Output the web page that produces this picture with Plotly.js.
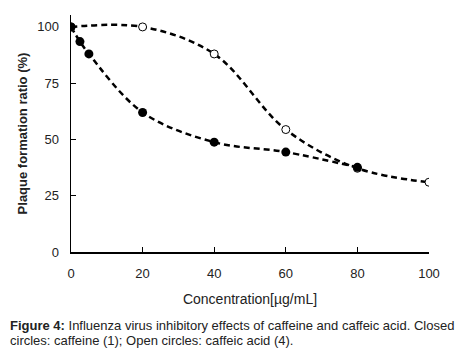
<!DOCTYPE html>
<html><head><meta charset="utf-8">
<script src="https://cdn.plot.ly/plotly-3.0.1.min.js"></script>
<style>html,body{margin:0;padding:0;background:#fff;}#chart{width:458px;height:360px;}</style>
</head><body><div id="chart"></div>
<script>
const caffeineX = [0, 2.5, 5, 20, 40, 60, 80];
const caffeineY = [100, 93.5, 88, 62, 48.8, 44.4, 37.6];
const caffeicX = [0, 20, 40, 60, 80, 100];
const caffeicY = [100, 100, 88, 54.4, 37.2, 31];
const xTicks = [0, 20, 40, 60, 80, 100];
const yTicks = [0, 25, 50, 75, 100];
const xTitle = 'Concentration[µg/mL]';
const yTitle = '<b>Plaque formation ratio (%)</b>';
const captionLine1 = '<b>Figure 4:</b> Influenza virus inhibitory effects of caffeine and caffeic acid. Closed';
const captionLine2 = 'circles: caffeine (1); Open circles: caffeic acid (4).';

const F = 'Arial, "Liberation Sans", sans-serif';
const traces = [
  {x: caffeicX, y: caffeicY, mode: 'lines', line: {shape: 'spline', smoothing: 1, color: '#000', width: 2.5, dash: '6px,4px'}, hoverinfo: 'skip'},
  {x: caffeineX, y: caffeineY, mode: 'lines', line: {shape: 'spline', smoothing: 1, color: '#000', width: 2.5, dash: '6px,4px'}, hoverinfo: 'skip'},
  {x: caffeicX, y: caffeicY, mode: 'markers', marker: {symbol: 'circle', size: 8, color: '#fff', line: {color: '#000', width: 1}}},
  {x: caffeineX, y: caffeineY, mode: 'markers', marker: {symbol: 'circle', size: 9, color: '#000', line: {color: '#000', width: 0}}}
];
const layout = {
  width: 458, height: 360,
  margin: {l: 71, r: 29, t: 15, b: 108},
  paper_bgcolor: '#fff', plot_bgcolor: '#fff',
  showlegend: false,
  font: {family: F, size: 13, color: '#222'},
  xaxis: {
    range: [0, 100], tickvals: xTicks, ticktext: xTicks.map(String),
    showgrid: false, zeroline: false, showline: true, linecolor: '#000', linewidth: 1.5,
    ticks: 'inside', ticklen: 5, tickcolor: '#000', tickwidth: 1,
    ticklabelstandoff: 9,
    tickfont: {family: F, size: 13, color: '#222'},
    title: {text: xTitle, font: {family: F, size: 14, color: '#222'}, standoff: 14}
  },
  yaxis: {
    range: [0, 105.3], tickvals: yTicks, ticktext: yTicks.map(String),
    showgrid: false, zeroline: false, showline: true, linecolor: '#000', linewidth: 1.5,
    ticks: 'inside', ticklen: 5, tickcolor: '#000', tickwidth: 1,
    ticklabelstandoff: 8,
    tickfont: {family: F, size: 13, color: '#222'},
    title: {text: yTitle, font: {family: F, size: 13, color: '#222'}, standoff: 6}
  },
  annotations: [
    {xref: 'paper', yref: 'paper', x: -0.176, y: -0.312, xanchor: 'left', yanchor: 'middle',
     align: 'left', showarrow: false, text: captionLine1, font: {family: F, size: 13, color: '#222'}},
    {xref: 'paper', yref: 'paper', x: -0.176, y: -0.3755, xanchor: 'left', yanchor: 'middle',
     align: 'left', showarrow: false, text: captionLine2, font: {family: F, size: 13, color: '#222'}}
  ]
};
Plotly.newPlot('chart', traces, layout, {staticPlot: true, displayModeBar: false});
</script></body></html>
